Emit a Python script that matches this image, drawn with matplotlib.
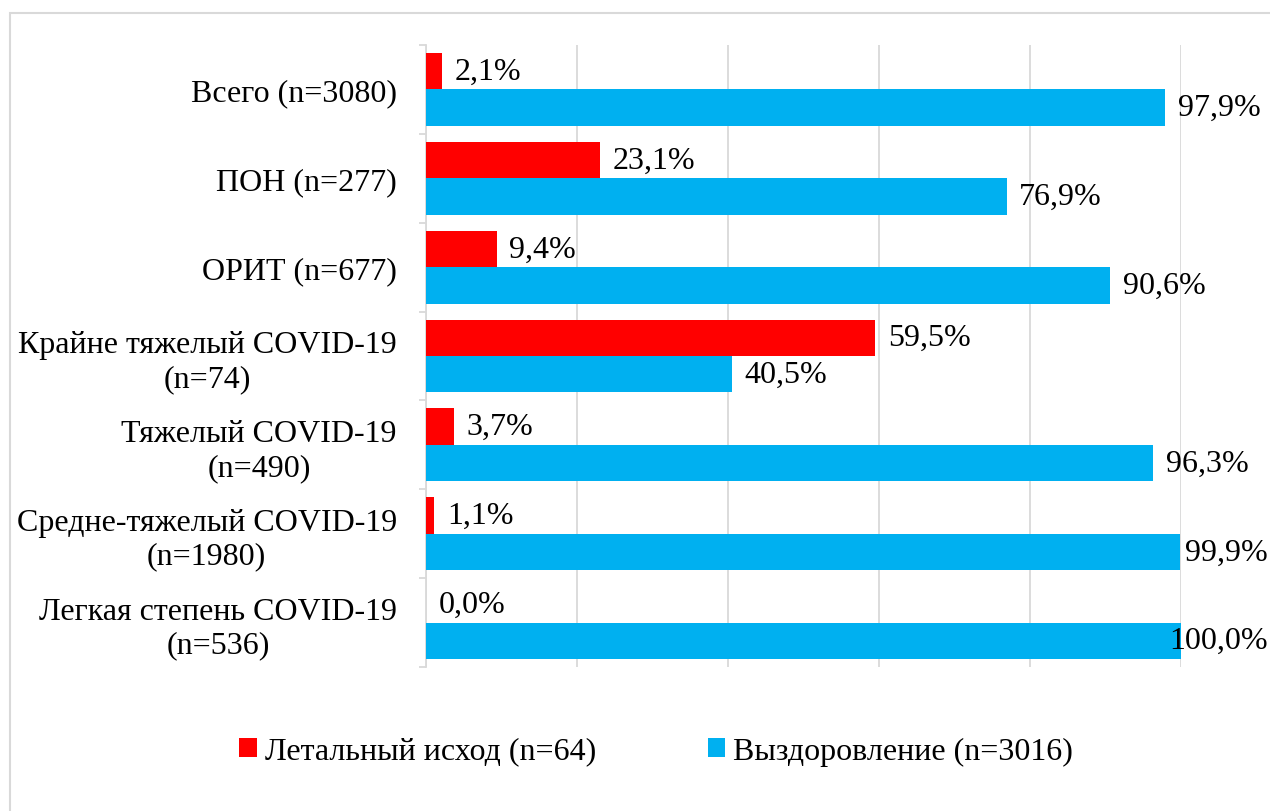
import matplotlib.pyplot as plt
from matplotlib.patches import Patch, Rectangle

##### Data #####
categories = ["Всего (n=3080)",
              "ПОН (n=277)",
              "ОРИТ (n=677)",
              "Крайне тяжелый COVID-19\n(n=74)",
              "Тяжелый COVID-19\n(n=490)",
              "Средне-тяжелый COVID-19\n(n=1980)",
              "Легкая степень COVID-19\n(n=536)"]
lethal = [2.1, 23.1, 9.4, 59.5, 3.7, 1.1, 0.0]
recovered = [97.9, 76.9, 90.6, 40.5, 96.3, 99.9, 100.0]
lethal_name = "Летальный исход (n=64)"
recovered_name = "Выздоровление (n=3016)"

red = "#FF0000"
blue = "#00B0F0"
grid_col = "#D9D9D9"

plt.rcParams['font.family'] = ['Liberation Serif', 'DejaVu Serif']
fs = 23

fig = plt.figure(figsize=(12.7, 8.12), dpi=100)
ax = fig.add_axes([426/1270, 1 - 668/812, (1181-426)/1270, (668-46)/812])

h = 0.41
off = 0.205
ypos = list(range(len(categories)))
ax.barh([y - off for y in ypos], lethal, height=h, color=red, zorder=3)
ax.barh([y + off for y in ypos], recovered, height=h, color=blue, zorder=3)

# value labels
def fmt(v):
    return "{:.1f}%".format(v).replace(".", ",")

for y, v in zip(ypos, lethal):
    ax.annotate(fmt(v), xy=(v, y - off), xytext=(9, 0), textcoords='offset points',
                ha='left', va='center', fontsize=fs, zorder=4)
for y, v in zip(ypos, recovered):
    if v >= 99:
        # no room to the right of the bar -> label kept inside the chart edge, like Excel
        ax.annotate(fmt(v), xy=(1268/1270, y + off), xycoords=('figure fraction', 'data'),
                    ha='right', va='center', fontsize=fs, zorder=4, annotation_clip=False)
    else:
        ax.annotate(fmt(v), xy=(v, y + off), xytext=(9, 0), textcoords='offset points',
                    ha='left', va='center', fontsize=fs, zorder=4, annotation_clip=False)

ax.set_xlim(0, 100)
ax.set_ylim(len(categories) - 0.5, -0.5)
ax.set_xticks([0, 20, 40, 60, 80, 100])
ax.tick_params(axis='x', length=0, labelbottom=False)
ax.grid(axis='x', color=grid_col, linewidth=1.3, zorder=0)

ax.set_yticks(ypos)
ax.set_yticklabels(categories, fontsize=fs)
for lbl in ax.get_yticklabels():
    lbl.set_multialignment('center')
ax.tick_params(axis='y', which='major', length=0, pad=21)
ax.set_yticks([y - 0.5 for y in range(len(categories) + 1)], minor=True)
ax.tick_params(axis='y', which='minor', length=5, width=1.3, color=grid_col, direction='out')

for s in ['top', 'right', 'bottom']:
    ax.spines[s].set_visible(False)
ax.spines['left'].set_color(grid_col)
ax.spines['left'].set_linewidth(1.3)

handles = [Patch(facecolor=red, label=lethal_name), Patch(facecolor=blue, label=recovered_name)]
fig.legend(handles=handles, loc='center', bbox_to_anchor=(656/1270, 1 - 752/812), ncol=2,
           frameon=False, fontsize=fs, handlelength=0.55, handleheight=0.55,
           handletextpad=0.25, columnspacing=3.5)

# outer chart frame
fig.add_artist(Rectangle((10/1270, -0.05), 1.1, 1.05 - 14/812, transform=fig.transFigure,
                         fill=False, edgecolor=grid_col, linewidth=1.5))

fig.savefig("out.png", dpi=100)
